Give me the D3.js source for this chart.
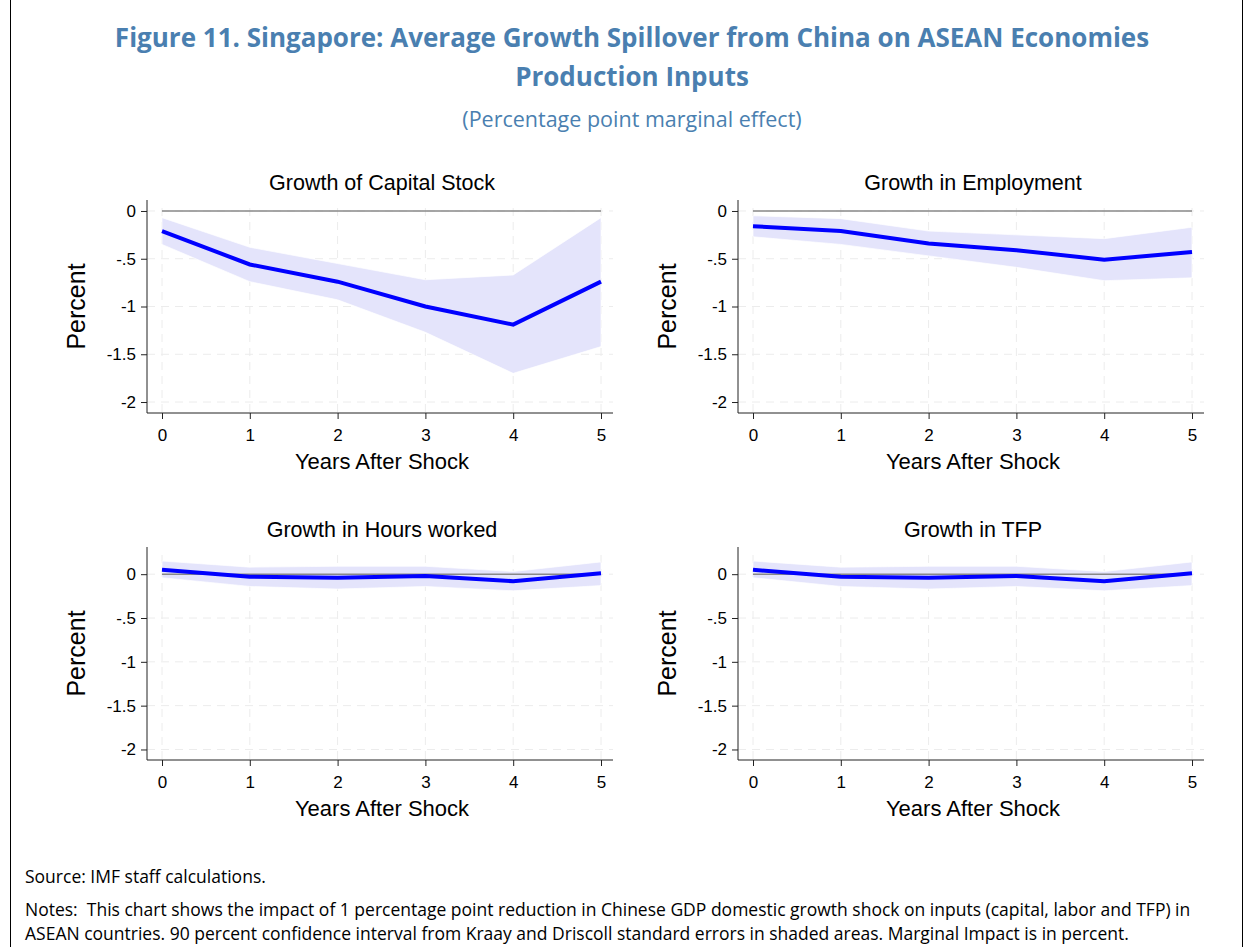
<!DOCTYPE html>
<html><head><meta charset="utf-8">
<script src="https://cdn.jsdelivr.net/npm/d3@7"></script>
<style>body{margin:0;background:#fff}</style>
</head><body>
<svg id="c" width="1244" height="947"></svg>
<script>
var years = [0, 1, 2, 3, 4, 5];
var yTicks = [0, -0.5, -1, -1.5, -2];
var titles = ["Growth of Capital Stock", "Growth in Employment", "Growth in Hours worked", "Growth in TFP"];
var capMean = [-0.21, -0.56, -0.74, -1.0, -1.19, -0.74];
var capHi = [-0.07, -0.38, -0.55, -0.72, -0.67, -0.07];
var capLo = [-0.35, -0.74, -0.93, -1.27, -1.70, -1.42];
var empMean = [-0.16, -0.21, -0.34, -0.41, -0.51, -0.43];
var empHi = [-0.05, -0.08, -0.21, -0.25, -0.29, -0.17];
var empLo = [-0.27, -0.35, -0.47, -0.59, -0.73, -0.70];
var hrsMean = [0.05, -0.03, -0.04, -0.02, -0.08, 0.01];
var hrsHi = [0.15, 0.08, 0.09, 0.09, 0.03, 0.14];
var hrsLo = [-0.04, -0.14, -0.17, -0.14, -0.19, -0.13];
var tfpMean = [0.05, -0.03, -0.04, -0.02, -0.08, 0.01];
var tfpHi = [0.15, 0.08, 0.09, 0.09, 0.03, 0.14];
var tfpLo = [-0.04, -0.14, -0.17, -0.14, -0.19, -0.13];

var svg = d3.select("#c");
var font = "Liberation Sans, Arial, sans-serif";
var tfont = "Open Sans, sans-serif";

svg.append("line").attr("x1", 10.5).attr("x2", 10.5).attr("y1", 0).attr("y2", 947).attr("stroke", "#000");
svg.append("line").attr("x1", 1242.5).attr("x2", 1242.5).attr("y1", 0).attr("y2", 947).attr("stroke", "#000");

svg.append("text").attr("x", 632).attr("y", 47).attr("text-anchor", "middle")
  .attr("font-family", tfont).attr("font-weight", "bold").attr("font-size", 26).attr("fill", "#4a7fb0")
  .text("Figure 11. Singapore: Average Growth Spillover from China on ASEAN Economies");
svg.append("text").attr("x", 632).attr("y", 86).attr("text-anchor", "middle")
  .attr("font-family", tfont).attr("font-weight", "bold").attr("font-size", 26).attr("fill", "#4a7fb0")
  .text("Production Inputs");
svg.append("text").attr("x", 632).attr("y", 127).attr("text-anchor", "middle")
  .attr("font-family", tfont).attr("font-size", 21.5).attr("fill", "#4a7fb0")
  .text("(Percentage point marginal effect)");

var panels = [
  {t: titles[0], m: capMean, hi: capHi, lo: capLo, x0: 147, top: 200, bot: 413, dom: [-2.115, 0.115]},
  {t: titles[1], m: empMean, hi: empHi, lo: empLo, x0: 738, top: 200, bot: 413, dom: [-2.115, 0.115]},
  {t: titles[2], m: hrsMean, hi: hrsHi, lo: hrsLo, x0: 147, top: 547, bot: 760, dom: [-2.12, 0.31]},
  {t: titles[3], m: tfpMean, hi: tfpHi, lo: tfpLo, x0: 738, top: 547, bot: 760, dom: [-2.12, 0.31]}
];

panels.forEach(function(p) {
  var g = svg.append("g");
  var x = d3.scaleLinear().domain([0, 5]).range([p.x0 + 15, p.x0 + 454]);
  var y = d3.scaleLinear().domain(p.dom).range([p.bot, p.top]);
  var right = p.x0 + 466;

  yTicks.forEach(function(v) {
    g.append("line").attr("x1", p.x0).attr("x2", right).attr("y1", y(v)).attr("y2", y(v))
      .attr("stroke", "#ececec").attr("stroke-dasharray", "8,6");
  });
  years.forEach(function(v) {
    g.append("line").attr("x1", x(v)).attr("x2", x(v)).attr("y1", p.top + 8).attr("y2", p.bot)
      .attr("stroke", "#ececec").attr("stroke-dasharray", "8,6");
  });

  var pts = years.map(function(v, i) { return {x: v, m: p.m[i], hi: p.hi[i], lo: p.lo[i]}; });
  g.append("path").datum(pts)
    .attr("d", d3.area().x(function(d) { return x(d.x); }).y0(function(d) { return y(d.lo); }).y1(function(d) { return y(d.hi); }))
    .attr("fill", "#e4e4fb").attr("stroke", "#fff").attr("stroke-width", 0.7);
  g.append("line").attr("x1", x(0)).attr("x2", x(5)).attr("y1", y(0)).attr("y2", y(0))
    .attr("stroke", "#888").attr("stroke-width", 1.5);
  g.append("path").datum(pts)
    .attr("d", d3.line().x(function(d) { return x(d.x); }).y(function(d) { return y(d.m); }))
    .attr("fill", "none").attr("stroke", "#0000ff").attr("stroke-width", 4);

  var ya = g.append("g").attr("transform", "translate(" + p.x0 + ",0)")
    .call(d3.axisLeft(y).tickValues(yTicks).tickSize(6).tickPadding(5).tickFormat(function(d) { return String(d).replace("0.", "."); }));
  var xa = g.append("g").attr("transform", "translate(0," + p.bot + ")")
    .call(d3.axisBottom(x).tickValues(years).tickSize(6).tickPadding(10).tickFormat(d3.format("d")));
  ya.select(".domain").attr("d", "M0," + p.top + "V" + p.bot);
  xa.select(".domain").attr("d", "M" + p.x0 + ",0H" + right);
  [ya, xa].forEach(function(a) {
    a.selectAll("text").attr("font-family", font).attr("font-size", 17).attr("fill", "#000");
    a.selectAll("line,path").attr("stroke", "#222");
  });

  g.append("text").attr("x", p.x0 + 235).attr("y", p.top - 10).attr("text-anchor", "middle")
    .attr("font-family", font).attr("font-size", 21.5).text(p.t);
  g.append("text").attr("x", p.x0 + 235).attr("y", p.bot + 56).attr("text-anchor", "middle")
    .attr("font-family", font).attr("font-size", 22).text("Years After Shock");
  g.append("text").attr("transform", "translate(" + (p.x0 - 62) + "," + ((p.top + p.bot) / 2) + ") rotate(-90)")
    .attr("text-anchor", "middle").attr("font-family", font).attr("font-size", 25).text("Percent");
});

svg.append("text").attr("x", 25).attr("y", 883).attr("font-family", tfont).attr("font-size", 17.5)
  .text("Source: IMF staff calculations.");
svg.append("text").attr("x", 25).attr("y", 916).attr("font-family", tfont).attr("font-size", 17.5)
  .attr("xml:space", "preserve").style("white-space", "pre")
  .text("Notes:  This chart shows the impact of 1 percentage point reduction in Chinese GDP domestic growth shock on inputs (capital, labor and TFP) in");
svg.append("text").attr("x", 25).attr("y", 940).attr("font-family", tfont).attr("font-size", 17.5)
  .text("ASEAN countries. 90 percent confidence interval from Kraay and Driscoll standard errors in shaded areas. Marginal Impact is in percent.");
</script>
</body></html>
